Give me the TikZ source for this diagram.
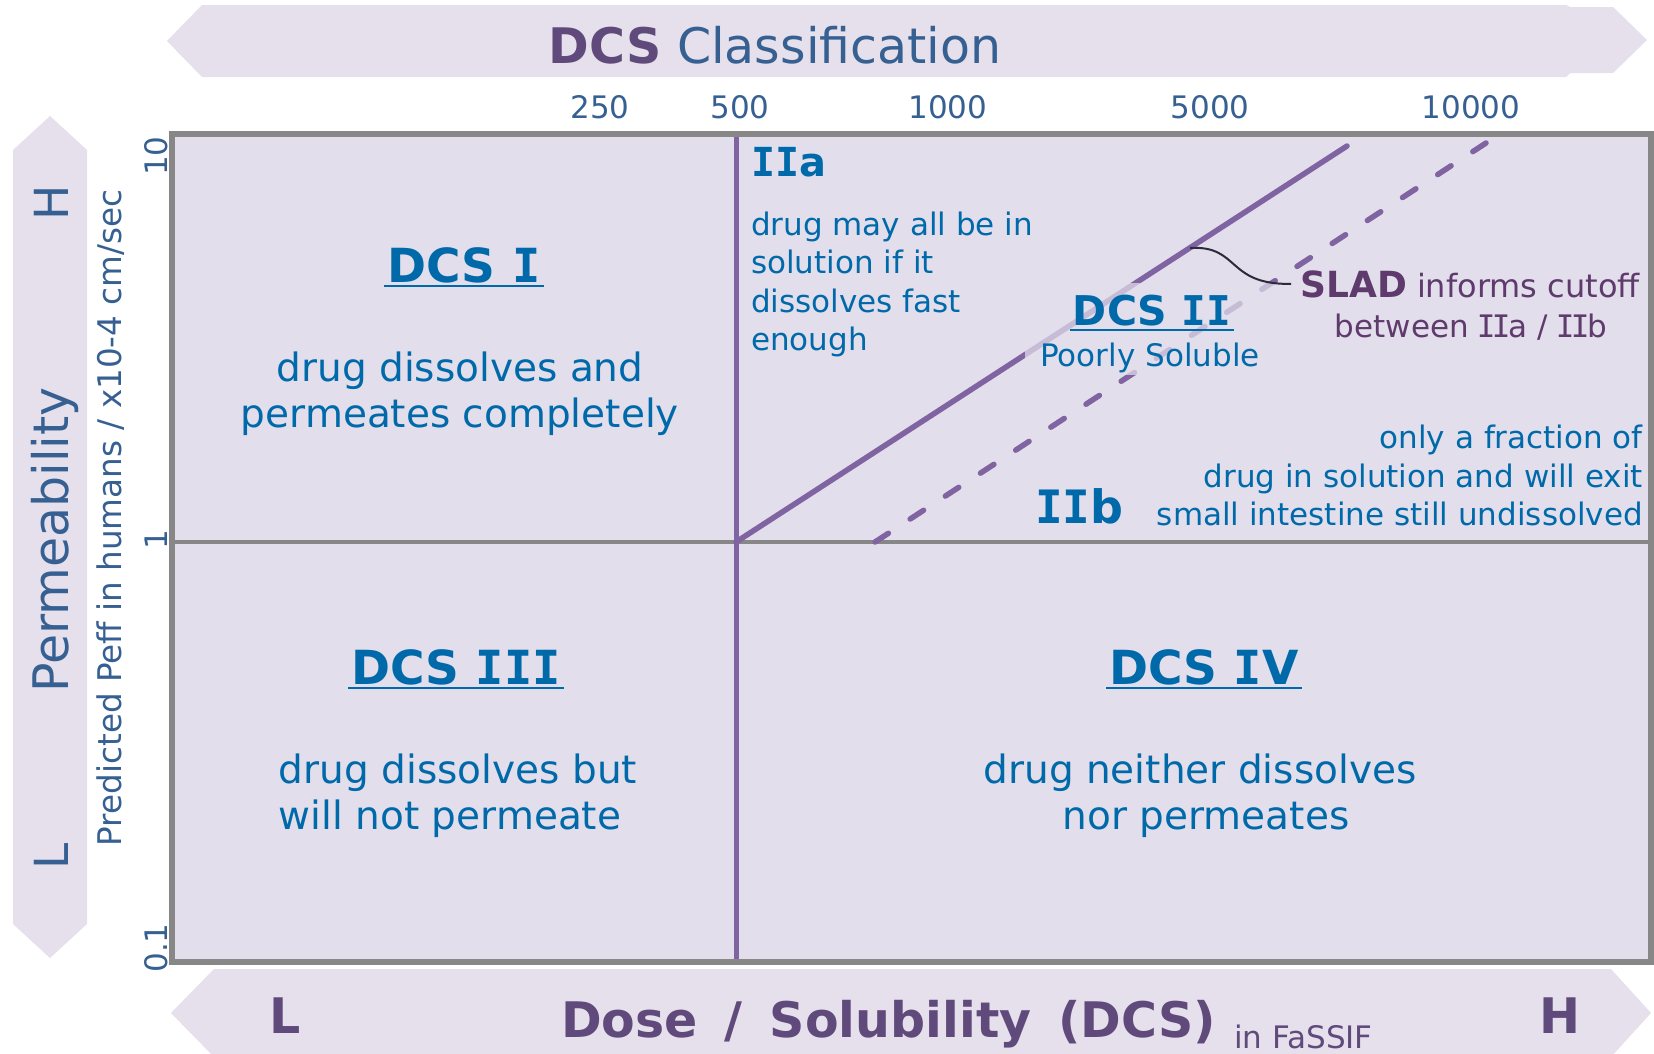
\documentclass[tikz,border=0pt]{standalone}
\usepackage{fontspec}
\setmainfont{DejaVu Sans}
\newfontfamily\monofont{DejaVu Sans Mono}
% capital I with slab serifs (bold headings, and a tighter regular form)
\newcommand\sI{{\monofont I}}
\newcommand\sIr{{\monofont\kern-0.06em I\kern-0.06em}}
\newcommand\fs[1]{\fontsize{#1pt}{#1pt}\selectfont}

\definecolor{bannerfill}{HTML}{E5E0EC}
\definecolor{plotfill}{HTML}{E2DEEB}
\definecolor{framegray}{HTML}{878787}
\definecolor{linepurple}{HTML}{8064A2}
\definecolor{classblue}{HTML}{0069AA}
\definecolor{axisblue}{HTML}{366092}
\definecolor{darkpurple}{HTML}{604A7B}
\definecolor{sladpurple}{HTML}{5F3A6C}
\definecolor{leader}{HTML}{2B2B3B}

\tikzset{
  banner/.style={fill=bannerfill},
  plotarea/.style={fill=plotfill},
  plotframe/.style={draw=framegray, line width=6pt},
  midline/.style={draw=framegray, line width=3.5pt},
  classline/.style={draw=linepurple, line width=5.5pt, line cap=round},
  boundary/.style={draw=linepurple, line width=5pt},
  cutoff/.style={classline, dash pattern=on 16pt off 26pt},
  leaderline/.style={draw=leader, line width=2pt},
  txt/.style={inner sep=0pt, anchor=base},
  tick/.style={txt, text=axisblue, font=\fs{31}},
  heading/.style={txt, text=classblue, font=\fs{47}\bfseries},
  body/.style={txt, text=classblue, font=\fs{39}},
  note/.style={txt, text=classblue, font=\fs{31}},
  uline/.style={draw=classblue, line width=2.5pt},
  veil/.style={fill=plotfill, fill opacity=0.72, inner sep=0pt},
}

\begin{document}
\begin{tikzpicture}[x=1pt,y=-1pt]
\useasboundingbox (0,0) rectangle (1654,1053);

% banners
\fill[banner] (202,5) -- (1566,5) -- (1570,7) -- (1613,7) -- (1647,40) -- (1613,73)
  -- (1570,73) -- (1566,77) -- (202,77) -- (167,41) -- cycle;
\fill[banner] (50,116) -- (87,150) -- (87,924) -- (50,958) -- (13,924) -- (13,150) -- cycle;
\fill[banner] (214,969) -- (1611,969) -- (1651,1013) -- (1611,1057) -- (214,1057)
  -- (171,1013) -- cycle;

% plot area
\fill[plotarea] (172,134) rectangle (1651,962);
\draw[midline] (170,542) -- (1651,542);
\draw[boundary] (736,134) -- (736,962);
\coordinate (solidA) at (736,542);
\coordinate (solidB) at (1347,146);
\coordinate (dashA) at (875,542);
\coordinate (dashB) at (1486,143);
\draw[classline] (solidA) -- (solidB);
\draw[cutoff] (dashA) -- (dashB);
\draw[plotframe] (172,134) rectangle (1651,962);

% title and axis texts
\node[txt, font=\fs{49}] (title) at (775,63)
  {{\bfseries\color{darkpurple}DCS} \color{axisblue}Classification};
\node[tick] (t250) at (600,118) {250};
\node[tick] (t500) at (740,118) {500};
\node[tick] (t1000) at (948,118) {1000};
\node[tick] (t5000) at (1210,118) {5000};
\node[tick] (t10000) at (1471,118) {10000};
\node[tick, rotate=90] (p10) at (167,156) {10};
\node[tick, rotate=90] (p1) at (167,540) {1};
\node[tick, rotate=90] (p01) at (167,948) {0.1};
\node[txt, rotate=90, text=axisblue, font=\fs{32.6}] (ylab) at (121,518)
  {Predicted Peff in humans / x10-4 cm/sec};
\node[txt, rotate=90, text=axisblue, font=\fs{49}] (perm) at (68,540) {Permeability};
\node[txt, rotate=90, text=axisblue, font=\fs{47}] (permH) at (68,203) {H};
\node[txt, rotate=90, text=axisblue, font=\fs{47}] (permL) at (68,856) {L};
\node[txt, text=darkpurple, font=\fs{49}\bfseries] (doseL) at (285,1033) {L};
\node[txt, text=darkpurple, font=\fs{49}\bfseries] (doseH) at (1560,1033) {H};
\node[txt, anchor=base west, text=darkpurple, font=\fs{49}\bfseries] (dose) at (561,1037)
  {Dose\hspace{10pt} /\hspace{10pt} Solubility\hspace{10pt} (DCS)};
\node[txt, anchor=base west, text=darkpurple, font=\fs{31}] (fassif) at (1234,1048) {in FaSSIF};

% DCS I
\node[heading] (dcs1) at (464,282) {DCS \sI};
\draw[uline] ([xshift=-3pt,yshift=-4pt]dcs1.base west) -- ([xshift=3pt,yshift=-4pt]dcs1.base east);
\node[body] (dcs1a) at (460,381) {drug dissolves and};
\node[body] (dcs1b) at (460,427) {permeates completely};

% DCS III
\node[heading] (dcs3) at (456,684) {DCS \sI\sI\sI};
\draw[uline] ([xshift=-3pt,yshift=-4pt]dcs3.base west) -- ([xshift=3pt,yshift=-4pt]dcs3.base east);
\node[body] (dcs3a) at (458,783) {drug dissolves but};
\node[body] (dcs3b) at (450,829) {will not permeate};

% DCS IV
\node[heading] (dcs4) at (1204,684) {DCS \sI V};
\draw[uline] ([xshift=-3pt,yshift=-4pt]dcs4.base west) -- ([xshift=3pt,yshift=-4pt]dcs4.base east);
\node[body] (dcs4a) at (1200,783) {drug neither dissolves};
\node[body] (dcs4b) at (1206,829) {nor permeates};

% DCS IIa
\node[note, anchor=base west, font=\fs{40}\bfseries] (iia) at (751,176) {\sI\sI a};
\node[note, anchor=base west] (iia1) at (751,235) {drug may all be in};
\node[note, anchor=base west] (iia2) at (751,273) {solution if it};
\node[note, anchor=base west] (iia3) at (751,312) {dissolves fast};
\node[note, anchor=base west] (iia4) at (751,350) {enough};

% DCS II label on a translucent patch
\node[veil, minimum width=255pt, minimum height=92pt] (veil2) at (1152,329) {};
\node[heading, font=\fs{41}\bfseries] (dcs2) at (1152,325) {DCS \sI\sI};
\draw[uline] ([xshift=-3pt,yshift=-5pt]dcs2.base west) -- ([xshift=3pt,yshift=-5pt]dcs2.base east);
\node[note] (poor) at (1150,366) {Poorly Soluble};

% SLAD note
\node[txt, text=sladpurple, font=\fs{32}] (slad) at (1470,297)
  {{\fs{36}\bfseries SLAD} informs cutoff};
\node[txt, text=sladpurple, font=\fs{31}] (slad2) at (1471,337) {between \sIr\sIr a / \sIr\sIr b};
\coordinate (sladA) at (1190,248);
\draw[leaderline] (sladA) .. controls (1240,245) and (1226,285) .. ([xshift=-9pt]slad.west);

% DCS IIb
\node[note, anchor=base west, font=\fs{46}\bfseries] (iib) at (1035,523) {\sI\sI b};
\node[note, anchor=base east] (iib1) at (1643,448) {only a fraction of};
\node[note, anchor=base east] (iib2) at (1643,487) {drug in solution and will exit};
\node[note, anchor=base east] (iib3) at (1643,525) {small intestine still undissolved};
\end{tikzpicture}
\end{document}
